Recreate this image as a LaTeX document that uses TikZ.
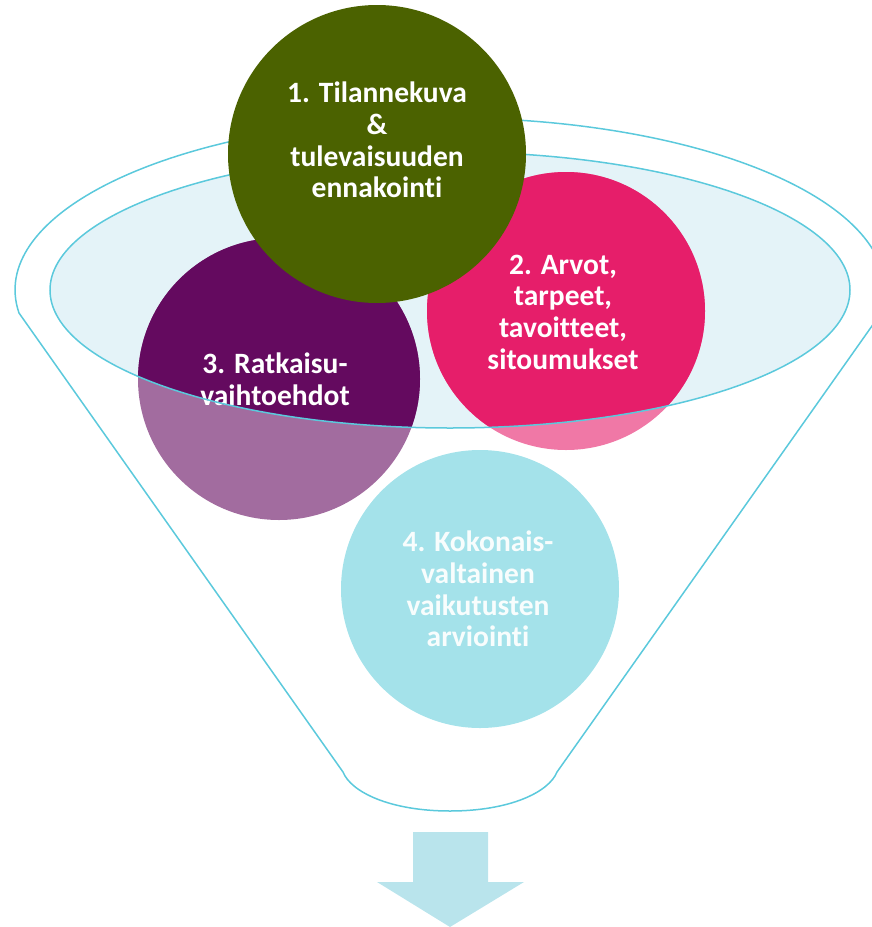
\documentclass[tikz,border=0pt]{standalone}
\usepackage{fontspec}
\setmainfont{Carlito}[Ligatures={NoCommon,NoDiscretionary,NoContextual}]
\definecolor{funnelline}{RGB}{91,201,220}
\definecolor{innerfill}{RGB}{228,243,248}
\definecolor{cgreen}{RGB}{75,98,0}
\definecolor{cpink}{RGB}{230,30,106}
\definecolor{cpurple}{RGB}{100,10,95}
\definecolor{cblue}{RGB}{164,226,234}
\definecolor{arrowfill}{RGB}{185,228,236}
\begin{document}
\begin{tikzpicture}[x=1pt,y=-1pt,
  rim/.style={draw=funnelline,line width=1.5pt},
  disc/.style={circle,inner sep=0pt,minimum size=#1},
  lbl/.style={text=white,align=center,font=\fontsize{29.5}{31.7}\selectfont\bfseries}]
\useasboundingbox (0,0) rectangle (871,927);
% funnel outline
\draw[rim] (19,313) arc[start angle=172.31,end angle=367.69,x radius=435,y radius=172]
  -- (557,772) .. controls (549,792) and (510,811) .. (450,811)
  .. controls (390,811) and (351,792) .. (343,772) -- cycle;
% inner ellipse fill
\fill[innerfill] (450,290) ellipse[x radius=400,y radius=138];
% circle 4
\node[disc=278pt,fill=cblue] (c4) at (480,589) {};
\node[lbl,text=white!92!cblue] (t4) at (478,589) {4. Kokonais-\\valtainen\\vaikutusten\\arviointi};
% circles 3 and 2 (lighter outside the ellipse)
\node[disc=282pt,fill=cpurple!60!white] (c3) at (279,379) {};
\node[disc=278pt,fill=cpink!60!white] (c2) at (566,311) {};
\begin{scope}
  \clip (450,290) ellipse[x radius=400,y radius=138];
  \fill[cpurple] (c3.center) circle[radius=141];
  \fill[cpink] (c2.center) circle[radius=139];
\end{scope}
\node[lbl] (t3) at (275,379) {3. Ratkaisu-\\vaihtoehdot};
\node[lbl] (t2) at (563,312) {2. Arvot,\\tarpeet,\\tavoitteet,\\sitoumukset};
% inner ellipse outline
\draw[rim] (450,290) ellipse[x radius=400,y radius=138];
% circle 1 on top
\node[disc=298pt,fill=cgreen] (c1) at (377,154) {};
\node[lbl] (t1) at (377,140) {1. Tilannekuva\\\&\\tulevaisuuden\\ennakointi};
% block arrow
\fill[arrowfill] (413,832) -- (488,832) -- (488,882) -- (524,882) -- (450,927)
  -- (377,882) -- (413,882) -- cycle;
\end{tikzpicture}
\end{document}
